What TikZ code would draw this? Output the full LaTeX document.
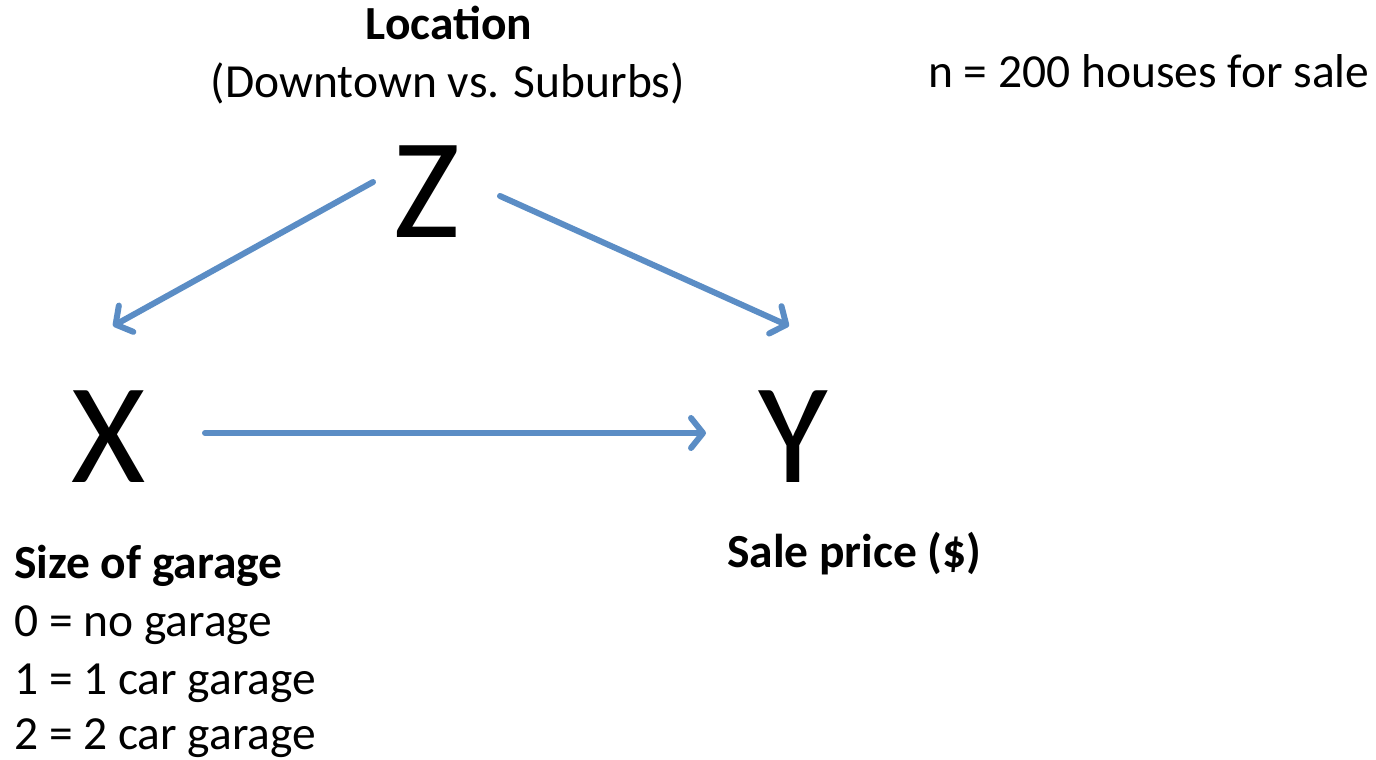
\documentclass[tikz,border=0pt]{standalone}
\usepackage{fontspec}
\setmainfont{Carlito}
\usetikzlibrary{arrows.meta}
\definecolor{arrowblue}{RGB}{91,141,197}
\tikzset{
  txt/.style={inner sep=0pt, font=\fontsize{47.5}{55}\selectfont},
  btxt/.style={inner sep=0pt, font=\fontsize{47.5}{55}\selectfont\bfseries},
  big/.style={inner sep=0pt, font=\fontsize{143}{160}\selectfont},
  conn/.style={draw=arrowblue, line width=6pt, line cap=round, -{Straight Barb[length=12pt,width=30pt,line width=6pt,round]}}
}
\begin{document}
\begin{tikzpicture}[x=1pt,y=-1pt]
\useasboundingbox (0,0) rectangle (1376,760);
\node[btxt, anchor=base] (loc) at (449,40) {Location};
\node[txt, anchor=base] (locsub) at (448,97) {(Downtown vs. Suburbs)};
\node[txt, anchor=base west] (n) at (928,88) {n = 200 houses for sale};
\node[big, anchor=base] (Z) at (427,237) {Z};
\node[big, anchor=base] (X) at (109,482) {X};
\node[big, anchor=base] (Y) at (793,482) {Y};
\node[btxt, anchor=base west] (sog) at (14,578) {Size of garage};
\node[txt, anchor=base west] (g0) at (14,636) {0 = no garage};
\node[txt, anchor=base west] (g1) at (14,694) {1 = 1 car garage};
\node[txt, anchor=base west] (g2) at (14,749) {2 = 2 car garage};
\node[btxt, anchor=base west] (sp) at (727,567) {Sale price (\$)};
\coordinate (zx1) at (373,182);
\coordinate (zx2) at (113,326);
\coordinate (zy1) at (500,196);
\coordinate (zy2) at (789,326);
\coordinate (xy1) at (205,433);
\coordinate (xy2) at (706,433);
\draw[conn] (zx1) -- (zx2);
\draw[conn] (zy1) -- (zy2);
\draw[conn] (xy1) -- (xy2);
\end{tikzpicture}
\end{document}
